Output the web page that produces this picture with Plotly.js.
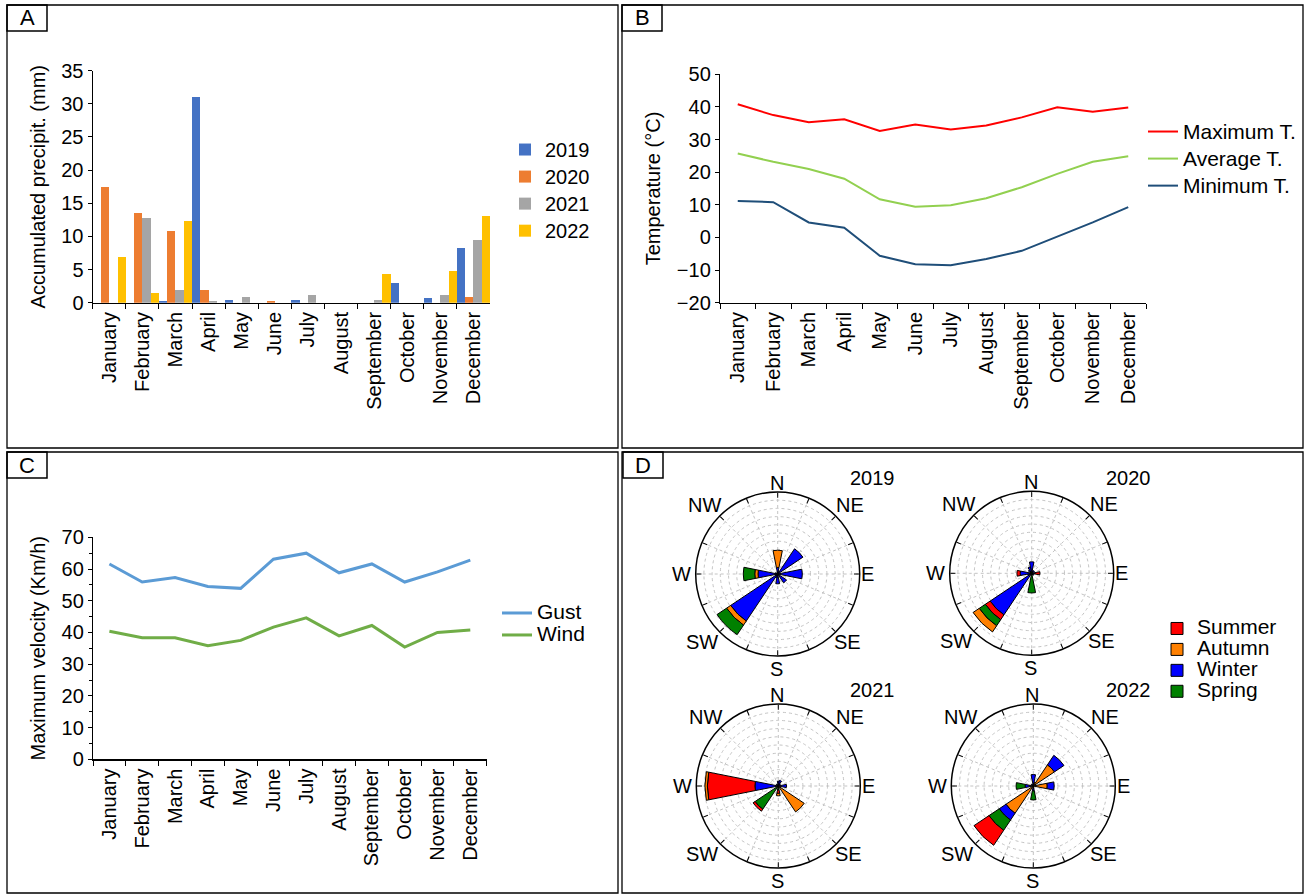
<!DOCTYPE html>
<html><head><meta charset="utf-8">
<script src="https://cdn.plot.ly/plotly-3.0.1.min.js"></script>
<style>html,body{margin:0;padding:0;background:#fff}#chart{width:1306px;height:894px}</style>
</head><body><div id="chart"></div>
<script>
// ---------- DATA ----------
const months = ['January','February','March','April','May','June','July','August','September','October','November','December'];

// Panel A: accumulated precipitation (mm)
const precipYears = ['2019','2020','2021','2022'];
const precip2019 = [0, 0, 0.2, 31.0, 0.4, 0, 0.4, 0, 0, 2.9, 0.65, 8.3];
const precip2020 = [17.5, 13.6, 10.8, 1.9, 0, 0.2, 0, 0, 0, 0, 0, 0.9];
const precip2021 = [0, 12.8, 1.9, 0.2, 0.9, 0, 1.15, 0, 0.4, 0, 1.15, 9.4];
const precip2022 = [6.9, 1.4, 12.3, 0, 0, 0, 0, 0, 4.4, 0, 4.85, 13.1];

// Panel B: temperature (°C)
const tempNames = ['Maximum T.','Average T.','Minimum T.'];
const tempMax = [40.8, 37.5, 35.3, 36.2, 32.6, 34.6, 33.1, 34.3, 36.8, 39.9, 38.5, 39.8];
const tempAvg = [25.7, 23.2, 21.0, 18.0, 11.7, 9.4, 9.85, 12.0, 15.4, 19.5, 23.2, 24.9];
const tempMin = [11.2, 10.8, 4.6, 3.0, -5.6, -8.2, -8.5, -6.6, -4.1, 0.2, 4.6, 9.3];

// Panel C: maximum velocity (Km/h)
const velNames = ['Gust','Wind'];
const gust = [61.6, 55.9, 57.3, 54.5, 53.9, 63.1, 65.0, 58.8, 61.6, 55.9, 59.1, 62.8];
const wind = [40.4, 38.3, 38.3, 35.8, 37.5, 41.7, 44.6, 38.9, 42.2, 35.4, 40.0, 40.8];

// Panel D: wind roses (16 directions)
const directions = [0, 22.5, 45, 67.5, 90, 112.5, 135, 157.5, 180, 202.5, 225, 247.5, 270, 292.5, 315, 337.5];
const compassLabels = ['N','NE','E','SE','S','SW','W','NW'];
const roseYears = ['2019','2020','2021','2022'];
//                     N    NNE  NE   ENE  E    ESE  SE   SSE  S    SSW  SW   WSW  W    WNW  NW   NNW
const summer2019 = [0,   0,   0,   0,   0,   0,   0,   0,   0,   0,   0,   0,   0,   0,   0,   0];
const autumn2019 = [2.1, 0,   0,   0,   0,   0,   0,   0,   0,   0,   0.6, 0,   0.4, 0,   0,   0];
const winter2019 = [0.8, 0.3, 3.7, 0,   3.0, 0,   1.3, 0,   1.2, 0.5, 6.9, 0,   2.4, 0.3, 0,   0];
const spring2019 = [0,   0,   0,   0,   0,   0,   0,   0,   0,   0,   1.4, 0,   1.4, 0,   0,   0];

const summer2020 = [0,   0,   0,   0,   0.6, 0,   0,   0,   0,   0,   0.7, 0,   0.4, 0,   0,   0];
const autumn2020 = [0,   0,   0,   0,   0,   0,   0,   0,   0,   0,   0.9, 0,   0,   0,   0,   0];
const winter2020 = [1.4, 0.3, 0.4, 0,   0.4, 0,   0.3, 0,   0,   0,   6.1, 0.5, 1.4, 0,   0.5, 0.8];
const spring2020 = [0,   0,   0,   0,   0,   0,   0,   0,   2.4, 0,   0.9, 0,   0,   0,   0,   0];

const summer2021 = [0,   0,   0,   0,   0,   0,   0,   0,   0.4, 0,   0.3, 0,   5.8, 0,   0,   0];
const autumn2021 = [0,   0,   0,   0,   0,   0,   3.8, 0,   0.3, 0,   0,   0,   0.3, 0,   0,   0];
const winter2021 = [0.6, 0.7, 0.3, 0,   1.0, 0,   0,   0,   0,   0,   0,   0,   2.85,0,   0.3, 0];
const spring2021 = [0,   0,   0,   0,   0,   0,   0,   0,   0.5, 0,   3.4, 0,   0,   0,   0,   0];

const summer2022 = [0,   0,   0,   0,   0,   0,   0,   0,   0,   0,   2.2, 0,   0,   0,   0,   0];
const autumn2022 = [0.3, 0.5, 3.1, 0,   1.7, 0,   0,   0,   0.3, 0,   4.0, 0,   0.5, 0,   0,   0];
const winter2022 = [1.1, 0,   1.4, 0,   0.85,0,   0,   0,   0.3, 0,   1.0, 0,   0.5, 0,   0.3, 0];
const spring2022 = [0,   0,   0,   0,   0,   0,   0,   0,   1.1, 0,   1.5, 0,   1.1, 0,   0,   0];

const stackOrder2019 = ['Winter','Autumn','Spring','Summer'];
const stackOrder2020 = ['Winter','Summer','Spring','Autumn'];
const stackOrder2021 = ['Winter','Spring','Summer','Autumn'];
const stackOrder2022 = ['Autumn','Winter','Spring','Summer'];

// ---------- BUILD ----------
const W = 1306, H = 894;
const px = v => v / W;
const py = v => 1 - v / H;
const FONT = 'Liberation Sans, Arial, sans-serif';
const FS = 20;
const big = (s, size) => '<span style="font-size:' + size + 'px">' + s + '</span>';

const seasonColors = {Summer:'#FF0000', Autumn:'#FF8000', Winter:'#0000FF', Spring:'#008000'};
const seasonRank = {Summer:1, Autumn:2, Winter:3, Spring:4};
const roses = [
  {polar:'polar',  data:{Summer:summer2019, Autumn:autumn2019, Winter:winter2019, Spring:spring2019}, order:stackOrder2019, cx:777.7,  cy:574},
  {polar:'polar2', data:{Summer:summer2020, Autumn:autumn2020, Winter:winter2020, Spring:spring2020}, order:stackOrder2020, cx:1031.7, cy:573.3},
  {polar:'polar3', data:{Summer:summer2021, Autumn:autumn2021, Winter:winter2021, Spring:spring2021}, order:stackOrder2021, cx:778.3,  cy:786},
  {polar:'polar4', data:{Summer:summer2022, Autumn:autumn2022, Winter:winter2022, Spring:spring2022}, order:stackOrder2022, cx:1033.3, cy:786}
];
const RR = 82; // rose radius in px

const traces = [];
const barColors = ['#4472C4','#ED7D31','#A5A5A5','#FFC000'];
[precip2019, precip2020, precip2021, precip2022].forEach((vals,i)=>{
  traces.push({type:'bar', x:months, y:vals, name:big(precipYears[i],20), marker:{color:barColors[i], line:{width:0}},
    xaxis:'x', yaxis:'y', legend:'legend'});
});
const tempColors = ['#FF0000','#92D050','#1F4E79'];
[tempMax, tempAvg, tempMin].forEach((vals,i)=>{
  traces.push({type:'scatter', mode:'lines', x:months, y:vals, name:big(tempNames[i],21), line:{color:tempColors[i], width:2},
    xaxis:'x2', yaxis:'y2', legend:'legend2'});
});
const velColors = ['#5B9BD5','#70AD47'];
[gust, wind].forEach((vals,i)=>{
  traces.push({type:'scatter', mode:'lines', x:months, y:vals, name:big(velNames[i],21), line:{color:velColors[i], width:3},
    xaxis:'x3', yaxis:'y3', legend:'legend3'});
});
roses.forEach((r,ri)=>{
  r.order.forEach(s=>{
    traces.push({type:'barpolar', r:r.data[s], theta:directions, name:big(s,21), subplot:r.polar,
      marker:{color:seasonColors[s], line:{color:'#000', width:1}},
      legend:'legend4', legendgroup:s, legendrank:seasonRank[s], showlegend: ri===0});
  });
});

const tickFont = {family:FONT, size:FS, color:'#000'};
const catX = (dom) => ({domain:dom, type:'category', range:[-0.5, 11.5], showline:true, linecolor:'#000', linewidth:1.2,
  ticks:'outside', ticklen:5, tickcolor:'#000', tickson:'boundaries', tickangle:-90,
  tickfont:tickFont, showgrid:false, zeroline:false, fixedrange:true});

const polarCommon = (r) => ({
  domain:{x:[px(r.cx-RR), px(r.cx+RR)], y:[py(r.cy+RR), py(r.cy-RR)]}, bgcolor:'#fff', barmode:'stack', bargap:0, hole:0,
  radialaxis:{range:[0,10], dtick:1, tick0:0, showticklabels:false, ticks:'', showline:false,
    gridcolor:'#c4c4c4', gridwidth:1, griddash:'dot'},
  angularaxis:{rotation:90, direction:'clockwise', tickmode:'array', tickvals:directions,
    showticklabels:false, showline:true, linecolor:'#000', linewidth:1.5, gridcolor:'#c4c4c4', griddash:'dot',
    ticks:'inside', ticklen:5, tickcolor:'#000'}
});

// compass label offsets (px from rose centre): N, NE, E, SE, S, SW, W, NW
const compassOffsets = [[-1,-91],[72,-69],[90,0],[70,68],[-1,95],[-76,68],[-96,0],[-73,-69]];
const annText = (text, x, y, size) => ({text:text, x:px(x), y:py(y), xref:'paper', yref:'paper', showarrow:false,
  xanchor:'center', yanchor:'middle', font:{family:FONT, size:size, color:'#000'}});

const annotations = [
  annText('A', 27, 18, 22), annText('B', 642, 18, 22), annText('C', 27, 465, 22), annText('D', 643, 465, 22),
  annText(roseYears[0], 872, 478, FS), annText(roseYears[1], 1128, 478, FS),
  annText(roseYears[2], 872, 690, FS), annText(roseYears[3], 1128, 690, FS)
];
roses.forEach(r=>{
  compassLabels.forEach((lab,k)=>{
    annotations.push(annText(lab, r.cx + compassOffsets[k][0], r.cy + compassOffsets[k][1], FS));
  });
});

const legendBase = {xanchor:'left', yanchor:'top', bgcolor:'rgba(0,0,0,0)', tracegroupgap:0};
const rect = (x0,y0,x1,y1,w) => ({type:'rect', xref:'paper', yref:'paper', x0:px(x0), x1:px(x1), y0:py(y1), y1:py(y0), line:{color:'#000', width:w}});

const layout = {
  width:W, height:H, margin:{l:0,r:0,t:0,b:0}, paper_bgcolor:'#fff', plot_bgcolor:'#fff',
  font:{family:FONT, size:FS, color:'#000'},
  barmode:'group', bargap:0, bargroupgap:0,
  xaxis: catX([px(92.7), px(490)]),
  yaxis: {domain:[py(302.7), py(70.7)], range:[0,35], dtick:5, showline:true, linecolor:'#000', linewidth:1.2,
    ticks:'outside', ticklen:4, tickcolor:'#000', showgrid:false, zeroline:false, tickfont:tickFont,
    title:{text:'Accumulated precipit. (mm)', font:{family:FONT,size:FS,color:'#000'}, standoff:10}},
  xaxis2: Object.assign(catX([px(720), px(1146)]), {anchor:'y2'}),
  yaxis2: {domain:[py(302.7), py(74.3)], range:[-20,50], dtick:10, showline:true, linecolor:'#000', linewidth:1.2,
    ticks:'outside', ticklen:4, tickcolor:'#000', showgrid:false, zeroline:false, tickfont:tickFont, anchor:'x2',
    title:{text:'Temperature (°C)', font:{family:FONT,size:FS,color:'#000'}, standoff:10}},
  xaxis3: Object.assign(catX([px(93), px(486.7)]), {anchor:'y3'}),
  yaxis3: {domain:[py(759.3), py(537.3)], range:[0,70], dtick:10, showline:true, linecolor:'#000', linewidth:1.2,
    ticks:'outside', ticklen:4, tickcolor:'#000', minor:{dtick:5, ticks:'outside', ticklen:3, tickcolor:'#000'},
    showgrid:false, zeroline:false, tickfont:tickFont, anchor:'x3',
    title:{text:'Maximum velocity (Km/h)', font:{family:FONT,size:FS,color:'#000'}, standoff:10}},
  polar:  polarCommon(roses[0]),
  polar2: polarCommon(roses[1]),
  polar3: polarCommon(roses[2]),
  polar4: polarCommon(roses[3]),
  legend:  Object.assign({x:px(505), y:py(131), font:{family:FONT, size:18.5, color:'#000'}}, legendBase),
  legend2: Object.assign({x:px(1143), y:py(113), font:{family:FONT, size:18.5, color:'#000'}}, legendBase),
  legend3: Object.assign({x:px(497), y:py(597), font:{family:FONT, size:14.6, color:'#000'}}, legendBase),
  legend4: Object.assign({x:px(1157), y:py(613), font:{family:FONT, size:13.8, color:'#000'}}, legendBase),
  shapes: [
    rect(7,5,618,448,1.3), rect(622,5,1303,448,1.3), rect(7,452,618,893,1.3), rect(622,452,1303,893,1.3),
    rect(7,5,47,31,1.5), rect(622,5,662,31,1.5), rect(7,452,47,478,1.5), rect(623,452,663,478,1.5)
  ],
  annotations: annotations,
  showlegend:true
};

Plotly.newPlot('chart', traces, layout, {displayModeBar:false, staticPlot:true});
</script></body></html>
